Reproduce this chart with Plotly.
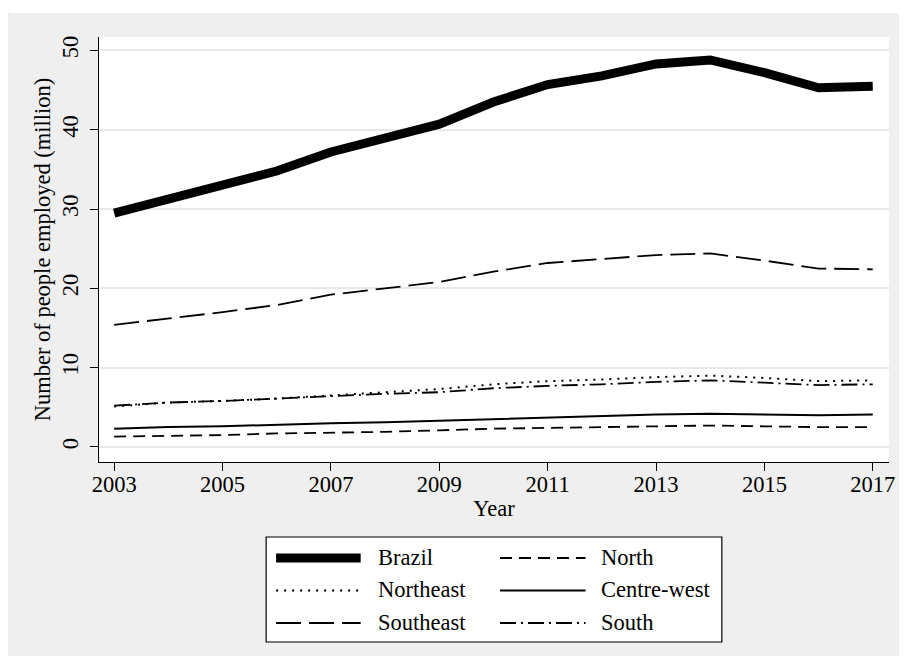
import plotly.graph_objects as go

# Data (million people employed)
years      = list(range(2003, 2018))
brazil     = [29.5, 31.3, 33.0, 34.8, 37.2, 39.0, 40.7, 43.5, 45.7, 46.8, 48.3, 48.8, 47.2, 45.3, 45.5]
north      = [1.3, 1.4, 1.5, 1.7, 1.8, 1.9, 2.1, 2.3, 2.4, 2.5, 2.6, 2.7, 2.6, 2.5, 2.5]
northeast  = [5.1, 5.6, 5.8, 6.1, 6.5, 6.9, 7.3, 7.9, 8.3, 8.5, 8.8, 9.0, 8.7, 8.3, 8.4]
centrewest = [2.3, 2.5, 2.6, 2.8, 3.0, 3.1, 3.3, 3.5, 3.7, 3.9, 4.1, 4.2, 4.1, 4.0, 4.1]
southeast  = [15.4, 16.2, 17.0, 17.9, 19.2, 20.0, 20.8, 22.1, 23.2, 23.7, 24.2, 24.4, 23.5, 22.5, 22.4]
south      = [5.2, 5.6, 5.8, 6.1, 6.4, 6.7, 6.9, 7.4, 7.7, 7.9, 8.2, 8.4, 8.1, 7.8, 7.9]

x_ticks = [2003, 2005, 2007, 2009, 2011, 2013, 2015, 2017]
y_ticks = [0, 10, 20, 30, 40, 50]

# Series: name, values, width, dash (order = legend order, row-major)
series = [
    ('Brazil',      brazil,     9.0, 'solid'),
    ('North',       north,      1.8, '12px,7px'),
    ('Northeast',   northeast,  2.0, '2px,6px'),
    ('Centre-west', centrewest, 2.0, 'solid'),
    ('Southeast',   southeast,  1.8, '25px,8px'),
    ('South',       south,      1.8, '16px,5px,2px,5px'),
]

FONT = 'Liberation Serif, Times New Roman, serif'
FS   = 22.5
W, H = 899, 648
M_L, M_R, M_T, M_B = 91, 14, 29, 194
PLOT_W = W - M_L - M_R
PLOT_H = H - M_T - M_B

def px_x(p):
    return (p - M_L) / PLOT_W

def px_y(p):
    return (H - M_B - p) / PLOT_H

fig = go.Figure()
for name, vals, w, dash in series:
    fig.add_trace(go.Scatter(x          = years,
                             y          = vals,
                             mode       = 'lines',
                             name       = name,
                             showlegend = False,
                             line       = dict(color = 'black', width = w, dash = dash)
                             ))

# white strip above the grey frame
shapes = [
    dict(type = 'rect', xref = 'paper', yref = 'paper', x0 = px_x(0), x1 = px_x(W), y0 = px_y(5), y1 = px_y(0),
         fillcolor = 'white', line = dict(width = 0), layer = 'below'),
]

# legend box
shapes.append(dict(type = 'rect', xref = 'paper', yref = 'paper',
                   x0 = px_x(259), x1 = px_x(717), y0 = px_y(634), y1 = px_y(529),
                   fillcolor = 'white', line = dict(color = 'black', width = 1.2), layer = 'above'))

annotations = []
rows = [550, 582.5, 615]
cols = [(269, 354, 369), (494, 580, 594)]
for i, (name, vals, w, dash) in enumerate(series):
    r = rows[i // 2]
    s0, s1, tx = cols[i % 2]
    shapes.append(dict(type = 'line', xref = 'paper', yref = 'paper',
                       x0 = px_x(s0), x1 = px_x(s1), y0 = px_y(r), y1 = px_y(r),
                       line = dict(color = 'black', width = w, dash = dash), layer = 'above'))
    annotations.append(dict(xref = 'paper', yref = 'paper', x = px_x(tx), y = px_y(r - 1),
                            xanchor = 'left', yanchor = 'middle', showarrow = False, text = name,
                            font = dict(family = FONT, size = FS, color = 'black')))

fig.update_layout(width         = W,
                  height        = H,
                  margin        = dict(l = M_L, r = M_R, t = M_T, b = M_B),
                  paper_bgcolor = '#efefef',
                  plot_bgcolor  = 'white',
                  font          = dict(family = FONT, size = FS, color = 'black'),
                  showlegend    = False,
                  shapes        = shapes,
                  annotations   = annotations,
                  xaxis         = dict(range             = [2002.72, 2017.3],
                                       tickvals          = x_ticks,
                                       showgrid          = False,
                                       zeroline          = False,
                                       showline          = True,
                                       linecolor         = 'black',
                                       linewidth         = 1.3,
                                       ticks             = 'outside',
                                       ticklen           = 8,
                                       tickwidth         = 1.3,
                                       tickcolor         = 'black',
                                       ticklabelstandoff = -6,
                                       tickfont          = dict(size = FS),
                                       title             = dict(text = 'Year', standoff = 4, font = dict(size = FS))),
                  yaxis         = dict(range             = [-1.9, 51.7],
                                       tickvals          = y_ticks,
                                       tickangle         = -90,
                                       showgrid          = True,
                                       gridcolor         = '#e8e8e8',
                                       gridwidth         = 1.5,
                                       zeroline          = False,
                                       showline          = True,
                                       linecolor         = 'black',
                                       linewidth         = 1.3,
                                       ticks             = 'outside',
                                       ticklen           = 8,
                                       tickwidth         = 1.3,
                                       tickcolor         = 'black',
                                       ticklabelstandoff = 3,
                                       tickfont          = dict(size = FS),
                                       title             = dict(text = 'Number of people employed (million)', standoff = 0,
                                                                font = dict(size = FS)))
                  )

fig.write_html('out.html')
